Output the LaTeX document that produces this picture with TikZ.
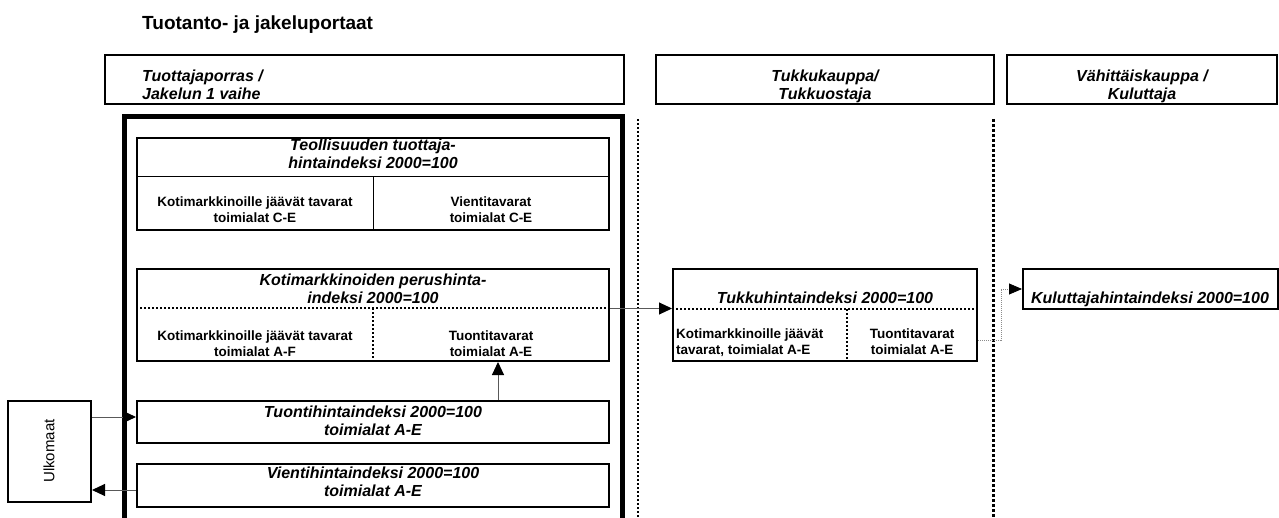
\documentclass[tikz,border=0pt]{standalone}
\usepackage{fontspec}
\setmainfont{Liberation Sans}
\usetikzlibrary{arrows.meta}

\begin{document}
\begin{tikzpicture}[x=1pt, y=-1pt,
		laatikko/.style={draw, line width=2pt, inner sep=0pt},
		otsikko/.style={inner sep=0pt, font=\fontsize{16}{18}\selectfont\bfseries\itshape},
		pieni/.style={inner sep=0pt, font=\fontsize{13.5}{16}\selectfont\bfseries},
		nuoli/.style={draw=black!65, line width=1pt, -{Triangle[length=13pt, width=12pt, color=black]}},
		pisteet/.style={line width=2pt, dash pattern=on 2pt off 2pt}]
		\useasboundingbox (0,0) rectangle (1279,518);

		\node[anchor=base west, inner sep=0pt, font=\fontsize{19}{22}\selectfont\bfseries] (otsikko) at (142,30) {Tuotanto- ja jakeluportaat};

		% Portaat
		\node[laatikko, minimum width=519pt, minimum height=49pt] (porras1) at (364.5,79.5) {};
		\node[laatikko, minimum width=338pt, minimum height=49pt] (porras2) at (825,79.5) {};
		\node[laatikko, minimum width=270pt, minimum height=49pt] (porras3) at (1142,79.5) {};
		\node[otsikko, anchor=base west, align=left] (porras1t) at (142,100) {Tuottajaporras /\\Jakelun 1 vaihe};
		\node[otsikko, anchor=base, align=center] (porras2t) at (825,100) {Tukkukauppa/\\Tukkuostaja};
		\node[otsikko, anchor=base, align=center] (porras3t) at (1142,100) {Vähittäiskauppa /\\Kuluttaja};

		% Kehys ja rajat
		\draw[line width=5pt] (124,518) -- (124,117) -- (622,117) -- (622,518);
		\draw[pisteet] (638,119) -- (638,518);
		\draw[line width=3pt, dash pattern=on 3pt off 2pt] (993,119) -- (993,518);

		% Teollisuuden tuottajahintaindeksi
		\node[laatikko, minimum width=472pt, minimum height=92pt] (teol) at (373,184) {};
		\draw[line width=1pt] ([yshift=7pt]teol.west) -- ([yshift=7pt]teol.east);
		\draw[line width=1pt] ([yshift=7pt]teol.center) -- (teol.south);
		\node[otsikko, anchor=base, align=center] (teolt) at (373,169) {Teollisuuden tuottaja-\\hintaindeksi 2000=100};
		\node[pieni, anchor=base, align=center] (teol1) at (255,223) {Kotimarkkinoille jäävät tavarat\\toimialat C-E};
		\node[pieni, anchor=base, align=center] (teol2) at (491,223) {Vientitavarat\\toimialat C-E};

		% Kotimarkkinoiden perushintaindeksi
		\node[laatikko, minimum width=472pt, minimum height=92pt] (kot) at (373,315) {};
		\draw[pisteet] ([yshift=6.5pt]kot.west) -- ([yshift=6.5pt]kot.east);
		\draw[pisteet] ([yshift=6.5pt]kot.center) -- (kot.south);
		\node[otsikko, anchor=base, align=center] (kott) at (373,304) {Kotimarkkinoiden perushinta-\\indeksi 2000=100};
		\node[pieni, anchor=base, align=center] (kot1) at (255,356) {Kotimarkkinoille jäävät tavarat\\toimialat A-F};
		\node[pieni, anchor=base, align=center] (kot2) at (491,356) {Tuontitavarat\\toimialat A-E};

		% Tuonti ja vienti
		\node[laatikko, minimum width=472pt, minimum height=42pt] (tuo) at (373,422) {};
		\node[otsikko, anchor=base, align=center] (tuot) at (373,435) {Tuontihintaindeksi 2000=100\\toimialat A-E};
		\node[laatikko, minimum width=472pt, minimum height=43pt] (vie) at (373,485.5) {};
		\node[otsikko, anchor=base, align=center] (viet) at (373,496) {Vientihintaindeksi 2000=100\\toimialat A-E};
		\node[laatikko, minimum width=83pt, minimum height=101pt] (ulk) at (49.5,451.5) {};
		\node[rotate=90, inner sep=0pt, font=\fontsize{15}{18}\selectfont] (ulkt) at (49,451) {Ulkomaat};

		% Tukkuhintaindeksi
		\node[laatikko, minimum width=304pt, minimum height=92pt] (tuk) at (825,315) {};
		\draw[pisteet] ([yshift=6pt]tuk.west) -- ([yshift=6pt]tuk.east);
		\draw[pisteet] ([xshift=22pt, yshift=6pt]tuk.center) -- ([xshift=22pt]tuk.south);
		\node[otsikko, anchor=base] (tukt) at (825,304) {Tukkuhintaindeksi 2000=100};
		\node[pieni, anchor=base west, align=left] (tuk1) at (676,355) {Kotimarkkinoille jäävät\\tavarat, toimialat A-E};
		\node[pieni, anchor=base, align=center] (tuk2) at (912,355) {Tuontitavarat\\toimialat A-E};

		% Kuluttajahintaindeksi
		\node[laatikko, minimum width=255pt, minimum height=40pt] (kul) at (1150.5,289) {};
		\node[otsikko, anchor=base] (kult) at (1150,304) {Kuluttajahintaindeksi 2000=100};

		% Nuolet
		\draw[nuoli] ([yshift=5pt]ulk.east |- tuo.west) -- ([yshift=5pt]tuo.west);
		\draw[nuoli] ([yshift=-4.5pt]vie.west) -- ([yshift=-4.5pt]vie.west -| ulk.east);
		\draw[nuoli] ([xshift=125pt]tuo.north) -- ([xshift=125pt]tuo.north |- kot.south);
		\draw[nuoli] ([yshift=6.5pt]kot.east) -- ([yshift=6.5pt]kot.east -| tuk.west);
		\draw[draw=black!45, line width=0.8pt, dash pattern=on 1pt off 1pt, -{Triangle[length=13pt, width=11pt, color=black]}] ([yshift=-25pt]tuk.east) -- ++(23,0) |- (kul.west);
\end{tikzpicture}
\end{document}
